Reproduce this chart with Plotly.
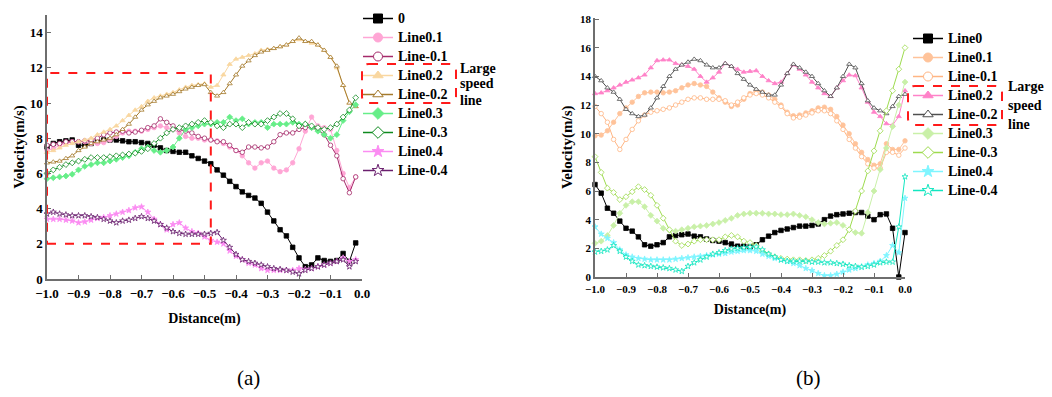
import plotly.graph_objects as go

W, H = 1052, 397
SERIF = "Liberation Serif"

# ---------------- data: panel (a) ----------------
dist_a = [-1.0, -0.98, -0.96, -0.94, -0.92, -0.9, -0.88, -0.86, -0.84, -0.82,
          -0.8, -0.78, -0.76, -0.74, -0.72, -0.7, -0.68, -0.66, -0.64, -0.62,
          -0.6, -0.58, -0.56, -0.54, -0.52, -0.5, -0.48, -0.46, -0.44, -0.42,
          -0.4, -0.38, -0.36, -0.34, -0.32, -0.3, -0.28, -0.26, -0.24, -0.22,
          -0.2, -0.18, -0.16, -0.14, -0.12, -0.1, -0.08, -0.06, -0.04, -0.02]

a_line0 = [7.5, 7.7, 7.8, 7.85, 7.9, 7.6, 7.6, 7.7, 7.8, 7.9,
           7.9, 7.9, 7.85, 7.8, 7.8, 7.75, 7.7, 7.6, 7.45, 7.3,
           7.25, 7.2, 7.2, 7.0, 6.85, 6.7, 6.55, 6.2, 5.9, 5.55,
           5.25, 4.95, 4.75, 4.6, 4.3, 3.8, 3.3, 2.8, 2.45, 1.8,
           1.2, 0.7, 0.8, 1.2, 1.05, 1.0, 1.05, 1.45, 1.0, 2.05]
a_p01 = [7.3, 7.4, 7.6, 7.7, 7.8, 7.8, 7.8, 7.7, 7.7, 7.75,
         7.9, 8.1, 8.3, 8.4, 8.4, 8.4, 8.5, 8.6, 8.7, 8.6,
         8.5, 8.3, 8.1, 8.0, 8.0, 7.9, 7.9, 7.85, 7.7, 7.5,
         7.3, 7.0, 6.6, 6.3, 6.6, 6.7, 6.3, 6.1, 6.2, 6.6,
         7.4, 8.4, 9.2, 8.7, 8.6, 8.5, 7.3, 6.0, 5.2, 5.8]
a_m01 = [7.6, 7.65, 7.7, 7.8, 7.8, 7.8, 7.85, 7.9, 8.0, 8.2,
         8.3, 8.35, 8.4, 8.3, 8.35, 8.45, 8.6, 8.7, 9.1, 8.9,
         8.7, 8.5, 8.4, 8.3, 8.1, 8.0, 7.9, 7.8, 7.8, 7.6,
         7.3, 7.2, 7.5, 7.5, 7.45, 7.5, 7.8, 8.2, 8.3, 8.3,
         8.5, 8.6, 8.6, 8.5, 8.2, 7.6, 7.0, 5.7, 4.9, 5.8]
a_p02 = [7.2, 7.3, 7.45, 7.6, 7.7, 7.8, 7.9, 8.0, 8.2, 8.35,
         8.5, 8.7, 9.0, 9.3, 9.6, 9.8, 10.1, 10.3, 10.4, 10.5,
         10.6, 10.75, 10.9, 11.0, 11.05, 11.1, 10.9, 11.0, 11.6, 12.2,
         12.5, 12.6, 12.7, 12.8, 13.0, 13.05, 13.1, 13.2, 13.3, 13.5,
         13.6, 13.5, 13.4, 13.3, 13.0, 12.6, 12.0, 11.0, 10.0, 9.8]
a_m02 = [6.6, 6.65, 6.7, 6.85, 7.0, 7.3, 7.5, 7.7, 7.8, 7.9,
         8.0, 8.2, 8.5, 8.8, 9.2, 9.6, 9.9, 10.1, 10.3, 10.4,
         10.5, 10.65, 10.8, 10.9, 11.0, 11.05, 10.6, 10.4, 10.6, 11.1,
         11.6, 12.1, 12.4, 12.7, 12.9, 13.0, 13.1, 13.2, 13.3, 13.5,
         13.7, 13.5, 13.5, 13.3, 13.0, 12.6, 12.1, 11.0, 10.0, 9.8]
a_p03 = [5.7, 5.75, 5.8, 5.85, 5.95, 6.2, 6.4, 6.5, 6.6, 6.6,
         6.7, 6.8, 6.9, 7.0, 7.2, 7.4, 7.5, 7.3, 7.2, 7.3,
         7.5, 8.0, 8.5, 8.6, 8.7, 8.8, 8.8, 8.9, 8.9, 9.2,
         9.0, 9.1, 8.8, 8.9, 8.9, 8.6, 8.8, 8.8, 8.8, 8.9,
         8.8, 8.8, 8.6, 8.4, 8.2, 8.0, 8.2, 9.0, 9.5, 9.9]
a_m03 = [6.0, 6.2, 6.35, 6.5, 6.6, 6.7, 6.8, 6.9, 6.9, 6.9,
         6.95, 7.0, 7.05, 7.1, 7.15, 7.25, 7.4, 7.7, 8.0, 8.3,
         8.5, 8.6, 8.7, 8.8, 8.9, 9.0, 8.9, 8.7, 8.6, 8.8,
         8.8, 8.6, 8.9, 8.8, 8.8, 9.0, 9.2, 9.4, 9.4, 9.1,
         8.7, 8.8, 8.7, 8.6, 8.5, 8.6, 8.8, 9.2, 9.6, 10.3]
a_p04 = [3.4, 3.4, 3.4, 3.35, 3.3, 3.2, 3.25, 3.35, 3.45, 3.5,
         3.6, 3.7, 3.8, 3.9, 4.05, 4.1, 3.8, 3.4, 3.1, 2.8,
         3.1, 3.2, 2.9, 2.7, 2.6, 2.4, 2.2, 2.1, 2.0, 1.6,
         1.3, 1.1, 0.9, 0.8, 0.6, 0.5, 0.5, 0.5, 0.5, 0.5,
         0.6, 0.55, 0.6, 0.7, 0.8, 0.9, 1.0, 1.2, 1.0, 1.1]
a_m04 = [3.7, 3.8, 3.7, 3.65, 3.6, 3.6, 3.6, 3.55, 3.5, 3.4,
         3.3, 3.2, 3.3, 3.35, 3.45, 3.55, 3.45, 3.3, 3.1, 2.9,
         2.7, 2.6, 2.55, 2.55, 2.55, 2.55, 2.6, 2.65, 2.2, 1.8,
         1.4, 1.1, 1.0, 0.9, 0.8, 0.7, 0.6, 0.55, 0.5, 0.4,
         0.3, 0.5, 0.6, 0.7, 0.8, 0.9, 1.0, 1.1, 0.7, 1.0]

# ---------------- data: panel (b) ----------------
dist_b = [-1.0, -0.98, -0.96, -0.94, -0.92, -0.9, -0.88, -0.86, -0.84, -0.82,
          -0.8, -0.78, -0.76, -0.74, -0.72, -0.7, -0.68, -0.66, -0.64, -0.62,
          -0.6, -0.58, -0.56, -0.54, -0.52, -0.5, -0.48, -0.46, -0.44, -0.42,
          -0.4, -0.38, -0.36, -0.34, -0.32, -0.3, -0.28, -0.26, -0.24, -0.22,
          -0.2, -0.18, -0.16, -0.14, -0.12, -0.1, -0.08, -0.06, -0.04, -0.02, 0.0]

b_line0 = [6.45, 5.85, 4.8, 4.45, 3.9, 3.4, 3.2, 2.8, 2.25, 2.15,
           2.25, 2.4, 2.8, 2.9, 2.95, 3.0, 2.85, 2.8, 2.65, 2.55,
           2.5, 2.4, 2.3, 2.15, 2.15, 2.1, 2.25, 2.6, 2.85, 3.1,
           3.25, 3.35, 3.45, 3.55, 3.55, 3.6, 3.7, 4.0, 4.25, 4.35,
           4.4, 4.45, 4.5, 4.5, 4.25, 4.0, 4.35, 4.4, 3.4, 0.0, 3.1]
b_p01 = [9.85, 9.9, 10.2, 10.8, 11.4, 11.8, 12.2, 12.6, 12.85, 12.9,
         12.9, 12.85, 12.9, 13.0, 13.2, 13.4, 13.5, 13.4, 13.3, 12.9,
         12.5, 12.2, 11.9, 12.0, 12.4, 12.8, 13.0, 12.9, 12.7, 12.4,
         12.0, 11.5, 11.25, 11.3, 11.45, 11.6, 11.8, 11.85, 11.7, 11.2,
         10.6, 10.0, 9.3, 8.7, 8.2, 7.8, 7.9, 9.3, 8.9, 8.9, 9.5]
b_m01 = [11.9, 11.4, 10.8, 9.6, 8.9, 9.6, 10.3, 10.9, 11.3, 11.5,
         11.6, 11.7, 11.8, 12.0, 12.2, 12.4, 12.5, 12.5, 12.4, 12.4,
         12.4, 12.3, 12.0, 12.2, 12.5, 12.7, 12.8, 12.7, 12.5, 12.2,
         11.9, 11.4, 11.1, 11.15, 11.3, 11.45, 11.6, 11.6, 11.4, 10.9,
         10.3, 9.6, 9.0, 8.4, 7.9, 7.6, 7.6, 8.7, 8.7, 8.5, 9.0]
b_p02 = [12.8, 12.85, 13.0, 13.2, 13.4, 13.6, 13.75, 13.9, 14.1, 14.6,
         15.1, 15.15, 15.15, 14.9, 14.8, 14.7, 14.5, 14.0, 13.6, 13.9,
         14.3, 14.9, 14.7, 14.5, 14.3, 14.35, 14.4, 14.0, 13.7, 13.5,
         13.6, 14.2, 14.8, 14.5, 14.1, 13.6, 13.2, 12.8, 12.6, 13.2,
         13.7, 14.1, 14.05, 13.2, 12.2, 11.5, 11.2, 10.7, 10.6, 11.2, 13.0]
b_m02 = [14.0, 13.7, 13.2, 12.9, 12.4, 11.7, 11.4, 11.2, 11.3, 11.8,
         12.5, 13.3, 14.0, 14.5, 14.8, 15.0, 15.2, 15.1, 14.8, 14.6,
         14.6, 14.9, 14.7, 14.2, 13.8, 13.4, 13.1, 12.9, 12.7, 12.7,
         13.4, 14.2, 14.85, 14.6, 14.3, 14.0, 13.5, 13.0, 12.6, 13.2,
         14.0, 14.85, 14.6, 13.5, 12.3, 11.8, 11.6, 11.4, 11.9, 12.6, 12.75]
b_p03 = [2.35, 2.5, 2.9, 3.6, 4.45, 5.0, 5.25, 5.25, 4.9, 4.3,
         3.9, 3.4, 3.25, 3.2, 3.3, 3.4, 3.5, 3.55, 3.6, 3.7,
         3.8, 3.95, 4.1, 4.3, 4.4, 4.45, 4.45, 4.45, 4.4, 4.4,
         4.35, 4.35, 4.4, 4.3, 4.2, 4.0, 3.8, 3.7, 3.75, 3.8,
         3.6, 3.3, 3.1, 3.05, 4.5, 6.0, 7.5, 9.0, 10.5, 12.0, 13.6]
b_m03 = [8.4, 7.3, 6.2, 5.9, 5.4, 5.6, 5.95, 6.3, 6.1, 5.7,
         5.0, 4.1, 3.3, 2.5, 2.2, 2.3, 2.5, 2.6, 2.6, 2.6,
         2.6, 2.8, 2.9, 2.8, 2.5, 2.4, 2.2, 1.8, 1.6, 1.4,
         1.3, 1.25, 1.2, 1.2, 1.15, 1.2, 1.3, 1.5, 1.8, 2.2,
         2.6, 3.3, 4.6, 6.0, 7.4, 8.8, 10.2, 11.6, 13.0, 14.5, 16.0]
b_p04 = [3.5, 3.0, 2.7, 2.4, 1.9, 1.55, 1.4, 1.3, 1.25, 1.2,
         1.2, 1.2, 1.2, 1.25, 1.3, 1.35, 1.4, 1.45, 1.5, 1.55,
         1.6, 1.65, 1.75, 1.8, 1.85, 1.85, 1.8, 1.6, 1.45, 1.3,
         1.2, 1.1, 0.95, 0.8, 0.6, 0.45, 0.25, 0.1, 0.1, 0.2,
         0.35, 0.5, 0.6, 0.7, 0.85, 0.95, 1.1, 1.5, 2.2, 1.7, 5.5]
b_m04 = [1.75, 1.8, 1.9, 2.2, 1.8, 1.4, 1.1, 0.85, 0.8, 0.75,
         0.7, 0.65, 0.6, 0.5, 0.4, 0.75, 1.0, 1.2, 1.4, 1.6,
         1.7, 1.85, 1.95, 2.0, 2.05, 2.1, 2.1, 1.9, 1.6, 1.4,
         1.2, 1.1, 1.1, 1.1, 1.1, 1.05, 1.05, 1.0, 1.0, 0.95,
         0.9, 0.8, 0.75, 0.7, 0.75, 0.85, 1.0, 1.05, 1.05, 3.5, 7.0]

names_a = ["0", "Line0.1", "Line-0.1", "Line0.2", "Line-0.2",
           "Line0.3", "Line-0.3", "Line0.4", "Line-0.4"]
names_b = ["Line0", "Line0.1", "Line-0.1", "Line0.2", "Line-0.2",
           "Line0.3", "Line-0.3", "Line0.4", "Line-0.4"]
series_a = [a_line0, a_p01, a_m01, a_p02, a_m02, a_p03, a_m03, a_p04, a_m04]
series_b = [b_line0, b_p01, b_m01, b_p02, b_m02, b_p03, b_m03, b_p04, b_m04]

colors_a = ["#000000", "#ffa6d5", "#a52a6a", "#f9d7a0", "#a47a2c",
            "#66ee88", "#0e8a1e", "#fb8cf2", "#6a1f6e"]
colors_b = ["#000000", "#ffc39a", "#ffb583", "#ff82c8", "#505050",
            "#c9f0a8", "#9ddb4e", "#7ff5ff", "#12e6c0"]
symbols = ["square", "circle", "circle", "triangle-up", "triangle-up",
           "diamond", "diamond", "star", "star"]
filled = [True, True, False, True, False, True, False, True, False]

fig = go.Figure()


def add_panel(xs, series, names, colors, xa, ya, leg, msize):
    for ys, nm, col, sym, fil in zip(series, names, colors, symbols, filled):
        mk = dict(symbol=sym, size=msize, color=col if fil else "white",
                  line=dict(color=col, width=0.8))
        fig.add_trace(go.Scatter(x=xs, y=ys, mode="lines+markers", name=nm,
                                 line=dict(color=col, width=1), marker=mk,
                                 xaxis=xa, yaxis=ya, showlegend=False,
                                 cliponaxis=False))
        lmk = dict(symbol=sym, size=9, color=col if fil else "white",
                   line=dict(color=col, width=1))
        fig.add_trace(go.Scatter(x=[None], y=[None], mode="lines+markers",
                                 name=f"<span style='font-size:14px'>{nm}</span>",
                                 line=dict(color=col, width=1.5),
                                 marker=lmk, xaxis=xa, yaxis=ya,
                                 legend=leg, showlegend=True))


add_panel(dist_a, series_a, names_a, colors_a, "x", "y", "legend", 4.5)
add_panel(dist_b, series_b, names_b, colors_b, "x2", "y2", "legend2", 4.5)

AX = "#6e6e6e"


def xaxis(dom, fs, standoff):
    return dict(domain=dom, range=[-1.0, 0.0], tick0=-1.0, dtick=0.1,
                tickformat=".1f", showline=True, linecolor=AX, linewidth=1.5,
                ticks="inside", ticklen=4, tickcolor=AX, showgrid=False,
                zeroline=False, automargin=False, ticklabelstandoff=standoff,
                tickfont=dict(family=SERIF, size=fs, color="black", weight="bold"))


def yaxis(dom, rng, fs):
    return dict(domain=dom, range=rng, tick0=0, dtick=2,
                showline=True, linecolor=AX, linewidth=1.5,
                ticks="inside", ticklen=4, tickcolor=AX, showgrid=False,
                zeroline=False, automargin=False,
                tickfont=dict(family=SERIF, size=fs, color="black", weight="bold"))


xa1 = xaxis([47 / W, 362 / W], 13, 2)
xa1["title"] = dict(text="Distance(m)", standoff=13,
                    font=dict(family=SERIF, size=14, weight="bold", color="black"))
ya1 = yaxis([1 - 279 / H, 1 - 15 / H], [0, 15], 13)
ya1["title"] = dict(text="Velocity(m/s)", standoff=1,
                    font=dict(family=SERIF, size=15, weight="bold", color="black"))
xa2 = xaxis([595 / W, 905 / W], 11, 1)
xa2["anchor"] = "y2"
xa2["title"] = dict(text="Distance(m)", standoff=10,
                    font=dict(family=SERIF, size=14, weight="bold", color="black"))
ya2 = yaxis([1 - 277 / H, 1 - 17.6 / H], [0, 18.1], 11)
ya2["anchor"] = "x2"
ya2["title"] = dict(text="Velocity(m/s)", standoff=4,
                    font=dict(family=SERIF, size=15, weight="bold", color="black"))

legfont = dict(family=SERIF, size=12, color="black", weight="bold")


def rounded(x0, y0, x1, y1, r):
    def P(px, py):
        return f"{px / W:.5f},{1 - py / H:.5f}"
    return (f"M {P(x0 + r, y0)} L {P(x1 - r, y0)} Q {P(x1, y0)} {P(x1, y0 + r)} "
            f"L {P(x1, y1 - r)} Q {P(x1, y1)} {P(x1 - r, y1)} "
            f"L {P(x0 + r, y1)} Q {P(x0, y1)} {P(x0, y1 - r)} "
            f"L {P(x0, y0 + r)} Q {P(x0, y0)} {P(x0 + r, y0)} Z")


red = dict(color="#ff1a1a", width=2, dash="dash")
shapes = [
    dict(type="rect", xref="x", yref="y", x0=-1.0, x1=-0.48, y0=2.0, y1=11.7,
         line=red),
    dict(type="path", xref="paper", yref="paper",
         path=rounded(362, 64, 456, 103, 7), line=red),
    dict(type="path", xref="paper", yref="paper",
         path=rounded(908, 86, 1002, 125, 7), line=red),
]

annfont = dict(family=SERIF, size=14, color="black", weight="bold")
annotations = []
for txt, yy in zip(["Large", "speed", "line"], [68, 84, 100]):
    annotations.append(dict(text=txt, xref="paper", yref="paper", x=458 / W,
                            y=1 - yy / H, xanchor="left", yanchor="middle",
                            showarrow=False, font=annfont))
for txt, yy in zip(["Large", "speed", "line"], [87, 106, 125]):
    annotations.append(dict(text=txt, xref="paper", yref="paper", x=1006 / W,
                            y=1 - yy / H, xanchor="left", yanchor="middle",
                            showarrow=False, font=annfont))
annotations += [
    dict(text="(a)", xref="paper", yref="paper", x=248 / W, y=1 - 378 / H,
         xanchor="center", yanchor="middle", showarrow=False,
         font=dict(family=SERIF, size=21, color="black")),
    dict(text="(b)", xref="paper", yref="paper", x=808 / W, y=1 - 378 / H,
         xanchor="center", yanchor="middle", showarrow=False,
         font=dict(family=SERIF, size=21, color="black")),
]

fig.update_layout(
    width=W, height=H, margin=dict(l=0, r=0, t=0, b=0),
    paper_bgcolor="white", plot_bgcolor="white",
    xaxis=xa1, yaxis=ya1, xaxis2=xa2, yaxis2=ya2,
    legend=dict(x=358 / W, y=1 - 4 / H, xanchor="left", yanchor="top",
                bgcolor="rgba(0,0,0,0)", font=legfont, tracegroupgap=0),
    legend2=dict(x=908 / W, y=1 - 24 / H, xanchor="left", yanchor="top",
                 bgcolor="rgba(0,0,0,0)", font=legfont, tracegroupgap=0),
    shapes=shapes, annotations=annotations, showlegend=True,
)

fig.write_html("out.html")
